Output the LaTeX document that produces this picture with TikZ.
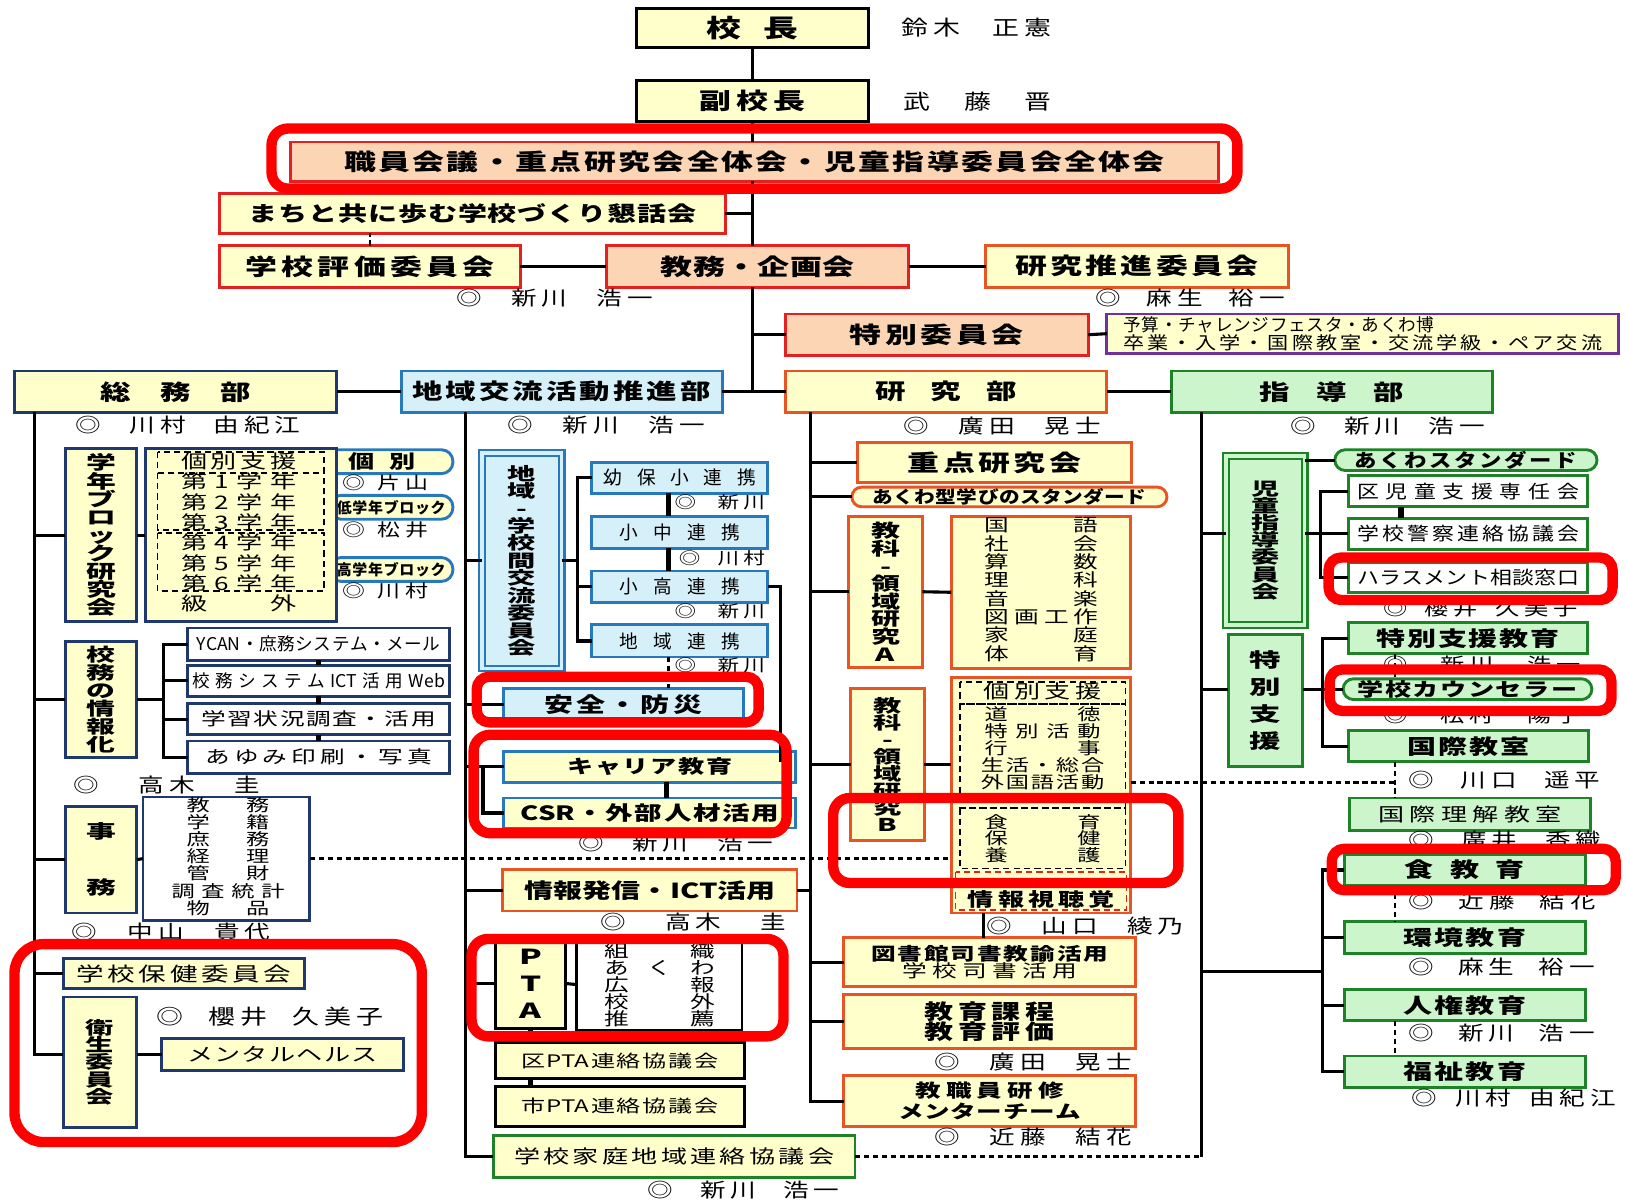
\documentclass[tikz,border=0pt]{standalone}
\usepackage{fontspec}
\setmainfont{Noto Sans CJK JP}
\newfontfamily\wfont[FakeStretch=1.4]{Noto Sans CJK JP}
\newfontfamily\mfont[FakeStretch=1.2]{Noto Sans CJK JP}
\newfontfamily\vfont[FakeStretch=1.6]{Noto Sans CJK JP}
\newfontfamily\nfont[FakeStretch=1.3,LetterSpace=25]{Noto Sans CJK JP}
\usetikzlibrary{positioning}

\definecolor{cream}{RGB}{255,255,204}
\definecolor{peach}{RGB}{252,213,180}
\definecolor{boxred}{RGB}{228,32,32}
\definecolor{boxorange}{RGB}{232,84,36}
\definecolor{navy}{RGB}{31,56,110}
\definecolor{skyline}{RGB}{40,120,190}
\definecolor{skyfill}{RGB}{214,240,250}
\definecolor{leaf}{RGB}{30,130,40}
\definecolor{leaffill}{RGB}{204,245,204}
\definecolor{plum}{RGB}{112,48,160}
\definecolor{marker}{RGB}{255,0,0}

\newdimen\px \px=0.5pt
\makeatletter
% spread the tokens of #2 over #1 px
\newcommand\sprd[2]{\hbox to #1\px{\let\sp@gap\relax\@tfor\sp@c:=#2\do{\sp@gap\sp@c\let\sp@gap\hfill}}}
\makeatother
% box from (x1,y1) to (x2,y2)
\newcommand\bx[7][]{\node[#1,minimum width={(#5-#3)*0.5pt},minimum height={(#6-#4)*0.5pt}] (#2) at ({(#3+#5)/2},{(#4+#6)/2}) {#7};}
% text spread from x1 to x2 at height y
\newcommand\tx[6][nm=9.5]{\node[#1] (#2) at ({(#3+#4)/2},#5) {\sprd{\the\numexpr#4-#3\relax}{#6}};}

\tikzset{
  box/.style={draw, line width=1.4pt, inner sep=0pt, outer sep=0pt, fill=cream},
  blackbox/.style={box, draw=black},
  redbox/.style={box, draw=boxred},
  peachbox/.style={box, draw=boxred, fill=peach},
  orbox/.style={box, draw=boxorange},
  navybox/.style={box, draw=navy},
  whitebox/.style={box, draw=navy, fill=white},
  skybox/.style={box, draw=skyline, fill=skyfill},
  greenbox/.style={box, draw=leaf, fill=leaffill},
  twoline/.style={double=#1, double distance=1.6pt, line width=1.1pt},
  pill/.style={rounded corners=#1},
  fs/.style={font=\fontsize{#1}{#1}\selectfont},
  fb/.style={font=\fontsize{#1}{#1}\selectfont\bfseries},
  fw/.style={font=\wfont\fontsize{#1}{#1}\selectfont\bfseries},
  fwr/.style={font=\wfont\fontsize{#1}{#1}\selectfont},
  fm/.style={font=\mfont\fontsize{#1}{#1}\selectfont\bfseries},
  fmr/.style={font=\mfont\fontsize{#1}{#1}\selectfont},
  nm/.style={font=\nfont\fontsize{#1}{#1}\selectfont},
  vt/.style 2 args={font=\vfont\fontsize{#1}{#2}\selectfont\bfseries, align=center},
  rows/.style 2 args={font=\wfont\fontsize{#1}{#2}\selectfont, align=center},
  link/.style={line width=1.5pt},
  boldlink/.style={line width=2.6pt},
  dotline/.style={line width=1.2pt, dash pattern=on 2.5pt off 1.8pt},
  dashrect/.style={line width=0.9pt, dash pattern=on 3pt off 2pt},
  marked/.style={draw=marker, line width=5pt, rounded corners=#1},
}

\begin{document}
\begin{tikzpicture}[x=0.5pt,y=-0.5pt]
\lineskiplimit=-100pt
\useasboundingbox (0,0) rectangle (1568,1159);
\fill[white] (0,0) rectangle (1568,1159);

% head
\bx[blackbox,fw=12]{kocho}{614}{8}{838}{46}{\sprd{89}{校長}}
\tx[nm=10]{nkocho}{870}{1015}{27}{{鈴木}{正憲}}
\bx[blackbox,fw=11]{fuku}{614}{78}{838}{117}{\sprd{102}{副校長}}
\tx[nm=10]{nfuku}{872}{1015}{98}{{武}{藤}{晋}}
\bx[peachbox,fw=11]{shokuin}{280}{137}{1176}{175}{\sprd{792}{職員会議・重点研究会全体会・児童指導委員会全体会}}
\bx[redbox,fw=10]{machi}{212}{187}{700}{225}{\sprd{432}{まちと共に歩む学校づくり懇話会}}
\bx[redbox,fw=11]{hyoka}{212}{237}{502}{277}{\sprd{241}{学校評価委員会}}
\bx[peachbox,fw=11]{kyomu}{585}{237}{877}{277}{\sprd{187}{教務・企画会}}
\bx[orbox,fw=11]{suishin}{951}{237}{1243}{277}{\sprd{235}{研究推進委員会}}
\tx{nkyomu}{440}{630}{288}{◎{新川}{浩一}}
\tx{nsuishin}{1057}{1240}{288}{◎{麻生}{裕一}}
\bx[peachbox,fw=11]{tokui}{758}{303}{1050}{343}{\sprd{168}{特別委員会}}
\bx[box,draw=plum,fs=8.5,align=left]{yosan}{1068}{303}{1562}{341}{\sprd{300}{予算・チャレンジフェスタ・あくわ博}\\{\mfont\sprd{462}{卒業・入学・国際教室・交流学級・ペア交流}}}

% departments
\bx[navybox,fw=10.5]{somu}{14}{358}{325}{398}{\sprd{145}{総務部}}
\bx[skybox,fw=10.5]{chiiki}{387}{358}{697}{398}{\sprd{288}{地域交流活動推進部}}
\bx[orbox,fw=10.5]{kenkyu}{758}{358}{1068}{398}{\sprd{137}{研究部}}
\bx[greenbox,fw=10.5]{shido}{1130}{358}{1440}{398}{\sprd{140}{指導部}}
\tx{nsomu}{73}{290}{410}{◎{川村}{由紀江}}
\tx{nchiiki}{490}{680}{410}{◎{新川}{浩一}}
\tx{nkenkyu}{872}{1062}{411}{◎{廣田}{晃士}}
\tx{nshido}{1245}{1433}{411}{◎{新川}{浩一}}

% somu column
\bx[navybox,vt={9}{8.75}]{gakunen}{63}{433}{132}{600}{学\\年\\ブ\\ロ\\ッ\\ク\\研\\究\\会}
\bx[box,draw=skyline,pill=5.5pt,fw=9]{pkobetsu}{300}{434}{437}{457}{\sprd{65}{個別}}
\bx[box,draw=skyline,pill=5.5pt,fb=7.2]{plow}{318}{478}{437}{501}{\sprd{105}{低学年ブロック}}
\bx[box,draw=skyline,pill=5.5pt,fb=7.2]{phigh}{318}{538}{437}{561}{\sprd{105}{高学年ブロック}}
\bx[navybox]{gradebox}{140}{433}{325}{600}{}
\draw[dashrect] (152,436) rectangle (313,511) (152,456) -- (313,456);
\draw[dashrect] (152,514) rectangle (313,570);
\node[rows={9}{9.8}] (graderows) at (230.5,514) {\sprd{111}{個別支援}\\\sprd{111}{第1学年}\\\sprd{111}{第2学年}\\\sprd{111}{第3学年}\\\sprd{111}{第4学年}\\\sprd{111}{第5学年}\\\sprd{111}{第6学年}\\\sprd{111}{級外}};
\tx[nm=8.5]{nkatayama}{330}{413}{466}{◎{片山}}
\tx[nm=8.5]{nmatsui}{330}{413}{511}{◎{松井}}
\tx[nm=8.5]{nkawamura}{330}{413}{570}{◎{川村}}

\bx[navybox,vt={8.7}{8.7}]{joho}{63}{619}{132}{731}{校\\務\\の\\情\\報\\化}
\bx[whitebox,fs=8.5]{ycan}{181}{606}{434}{637}{\sprd{235}{{YCAN}・庶務システム・メール}}
\bx[whitebox,fs=8.5]{komu}{181}{642}{434}{672}{\sprd{244}{校務システム{ICT}活用{Web}}}
\bx[whitebox,fwr=8.5]{gakushu}{181}{679}{434}{709}{\sprd{226}{学習状況調査・活用}}
\bx[whitebox,fwr=8.5]{ayumi}{181}{715}{434}{746}{\sprd{219}{あゆみ印刷・写真}}
\tx{ntakagi}{71}{251}{757}{◎{高木}{圭}}
\bx[navybox,vt={9}{27}]{jimu}{63}{778}{132}{881}{事\\務}
\bx[whitebox]{jimulist}{138}{769}{299}{888}{}
\node[rows={8}{8.25}] (jimurows) at (220,826.5) {\sprd{80}{教務}\\\sprd{80}{学籍}\\\sprd{80}{庶務}\\\sprd{80}{経理}\\\sprd{80}{管財}\\\sprd{109}{調査統計}\\\sprd{80}{物品}};
\tx{nnakayama}{69}{261}{899}{◎{中山}{貴代}}
\bx[navybox,fwr=9.5]{hoken}{61}{925}{294}{954}{\sprd{207}{学校保健委員会}}
\bx[navybox,vt={8.5}{8.25}]{eisei}{61}{962}{132}{1088}{衛\\生\\委\\員\\会}
\tx[nm=10]{nsakurai}{151}{370}{981}{◎{櫻井}{久美子}}
\bx[navybox,fwr=9]{mental}{156}{1002}{389}{1033}{\sprd{184}{メンタルヘルス}}

% chiiki column
\bx[skybox,twoline=skyfill,vt={8.5}{8.4}]{koryu}{465}{437}{542}{645}{地\\域\\-\\学\\校\\間\\交\\流\\委\\員\\会}
\bx[skybox,fs=9]{yoho}{571}{446}{741}{476}{\sprd{147}{幼保小連携}}
\bx[skybox,fs=9]{shochu}{571}{498}{741}{529}{\sprd{116}{小中連携}}
\bx[skybox,fs=9]{shoko}{571}{551}{741}{581}{\sprd{116}{小高連携}}
\bx[skybox,fs=9]{chiikirenkei}{571}{603}{741}{634}{\sprd{116}{地域連携}}
\tx[nm=8]{nyoho}{651}{738}{485}{◎{新川}}
\tx[nm=8]{nshochu}{655}{738}{539}{◎{川村}}
\tx[nm=8]{nshoko}{651}{738}{590}{◎{新川}}
\tx[nm=8]{nrenkei}{651}{738}{642}{◎{新川}}
\bx[skybox,fw=10]{anzen}{486}{664}{717}{696}{\sprd{152}{安全・防災}}
\bx[box,draw=skyline,fw=9]{career}{486}{725}{768}{755}{\sprd{159}{キャリア教育}}
\bx[box,draw=skyline,fw=9.5]{csr}{486}{770}{768}{799}{\sprd{249}{{CSR}・外部人材活用}}
\tx{ncsr}{558}{746}{814}{◎{新川}{浩一}}
\bx[orbox,fw=10]{hasshin}{485}{839}{769}{879}{\sprd{241}{情報発信・{ICT}活用}}
\tx{nhasshin}{579}{759}{890}{◎{高木}{圭}}
\bx[blackbox,vt={10}{13}]{pta}{478}{906}{546}{992}{P\\T\\A}
\bx[box,draw=black,fill=white]{ptalist}{556}{906}{716}{994}{}
\node[rows={8.5}{8.25}] (ptarows) at (636.5,950) {\sprd{107}{組織}\\\sprd{107}{あくわ}\\\sprd{107}{広報}\\\sprd{107}{校外}\\\sprd{107}{推薦}};
\bx[blackbox,fwr=8.3]{kupta}{478}{1006}{718}{1041}{\sprd{190}{区{PTA}連絡協議会}}
\bx[blackbox,fwr=8.3]{shipta}{478}{1048}{718}{1087}{\sprd{190}{市{PTA}連絡協議会}}
\bx[box,draw=leaf,fwr=9]{katei}{476}{1096}{825}{1136}{\sprd{309}{学校家庭地域連絡協議会}}
\tx{nkatei}{625}{810}{1148}{◎{新川}{浩一}}

% kenkyu column
\bx[orbox,fw=11]{juten}{827}{427}{1092}{466}{\sprd{167}{重点研究会}}
\bx[orbox,pill=4.75pt,fm=8.3]{akuwa}{822}{470}{1126}{489}{\sprd{264}{あくわ型学びのスタンダード}}
\bx[orbox,vt={8.75}{8.5}]{kyokaA}{819}{498}{890}{644}{教\\科\\-\\領\\域\\研\\究\\A}
\bx[orbox]{subjA}{918}{498}{1091}{645}{}
\node[rows={8.5}{8.85}] (subjArows) at (1005,569) {\sprd{110}{国語}\\\sprd{110}{社会}\\\sprd{110}{算数}\\\sprd{110}{理科}\\\sprd{110}{音楽}\\\sprd{110}{図画工作}\\\sprd{110}{家庭}\\\sprd{110}{体育}};
\bx[orbox,vt={8.5}{8.2}]{kyokaB}{821}{664}{892}{811}{教\\科\\-\\領\\域\\研\\究\\B}
\bx[orbox]{subjB}{918}{654}{1091}{881}{}
\draw[dashrect] (926,658) rectangle (1086,679);
\draw[dashrect] (926,679) rectangle (1086,780);
\draw[dashrect] (926,780) rectangle (1086,838);
\draw[dashrect,boxred] (922,841) rectangle (1087,878);
\tx[fwr=9]{kobetsuB}{949}{1063}{667}{個別支援}
\node[rows={8}{8.25}] (subjBrows) at (1006,722) {\sprd{112}{道徳}\\\sprd{112}{特別活動}\\\sprd{112}{行事}\\\sprd{119}{生活・総合}\\\sprd{119}{外国語活動}};
\node[rows={8}{8}] (healthrows) at (1006,809) {\sprd{112}{食育}\\\sprd{112}{保健}\\\sprd{112}{養護}};
\tx[fw=9]{shichokaku}{934}{1076}{868}{情報視聴覚}
\tx{nyamaguchi}{952}{1142}{894}{◎{山口}{綾乃}}
\bx[orbox,align=center,fwr=8.5]{tosho}{814}{905}{1096}{952}{{\bfseries\sprd{229}{図書館司書教諭活用}}\\\sprd{169}{学校司書活用}}
\bx[orbox,align=center,font=\wfont\fontsize{10}{9.5}\selectfont\bfseries]{kateiB}{814}{960}{1096}{1012}{\sprd{125}{教育課程}\\\sprd{125}{教育評価}}
\tx{nhirota}{902}{1092}{1025}{◎{廣田}{晃士}}
\bx[orbox,align=center,font=\wfont\fontsize{8.8}{10}\selectfont\bfseries]{kenshu}{814}{1038}{1096}{1087}{\sprd{143}{教職員研修}\\\sprd{177}{メンターチーム}}
\tx{nkondo}{902}{1092}{1097}{◎{近藤}{結花}}

% shido column
\bx[greenbox,twoline=leaffill,vt={8.5}{8.25}]{jido}{1183}{440}{1259}{603}{児\\童\\指\\導\\委\\員\\会}
\bx[greenbox,pill=5pt,fm=9]{akuwastd}{1288}{434}{1541}{454}{\sprd{215}{あくわスタンダード}}
\bx[box,draw=leaf,fill=white,fmr=8.8]{kujido}{1301}{459}{1532}{489}{\sprd{214}{区児童支援専任会}}
\bx[box,draw=leaf,fill=white,fmr=8.8]{keisatsu}{1301}{500}{1532}{530}{\sprd{214}{学校警察連絡協議会}}
\bx[box,draw=leaf,fill=white,fmr=8.8]{harassment}{1301}{543}{1532}{572}{\sprd{214}{ハラスメント相談窓口}}
\tx[nm=9]{nsakurai2}{1335}{1522}{587}{◎{櫻井}{久美子}}
\bx[greenbox,vt={9.5}{13.15}]{tokushi}{1185}{612}{1257}{740}{特\\別\\支\\援}
\bx[greenbox,fw=10]{tokushikyo}{1301}{601}{1532}{631}{\sprd{177}{特別支援教育}}
\tx[nm=9]{nshinkawa2}{1335}{1525}{641}{◎{新川}{浩一}}
\bx[greenbox,pill=5pt,fw=9]{counselor}{1296}{655}{1536}{675}{\sprd{212}{学校カウンセラー}}
\tx[nm=9]{nmatsumura}{1335}{1525}{690}{◎{松村}{陽子}}
\bx[greenbox,fw=10]{kokusai}{1301}{705}{1533}{735}{\sprd{117}{国際教室}}
\tx{nkawaguchi}{1359}{1544}{753}{◎{川口}{遥平}}
\bx[greenbox,fwr=9]{kokusairikai}{1302}{770}{1535}{801}{\sprd{177}{国際理解教室}}
\tx{nhiroi}{1359}{1545}{811}{◎{廣井}{香織}}
\bx[greenbox,fw=10]{shoku}{1297}{825}{1530}{854}{\sprd{116}{食教育}}
\tx{nkondo2}{1359}{1540}{869}{◎{近藤}{結花}}
\bx[greenbox,fw=10]{kankyo}{1297}{889}{1530}{920}{\sprd{118}{環境教育}}
\tx{naso}{1359}{1539}{933}{◎{麻生}{裕一}}
\bx[greenbox,fw=10]{jinken}{1297}{955}{1530}{985}{\sprd{118}{人権教育}}
\tx{nshinkawa3}{1359}{1539}{997}{◎{新川}{浩一}}
\bx[greenbox,fw=10]{fukushi}{1297}{1019}{1530}{1049}{\sprd{118}{福祉教育}}
\tx{nkawamura2}{1362}{1559}{1060}{◎{川村}{由紀江}}

% main line
\coordinate (mv) at (kocho.south);
\draw[link] (kocho.south) -- (fuku.north);
\draw[link] (mv |- fuku.south) -- (mv |- shokuin.north);
\draw[link] (mv |- shokuin.south) -- (mv |- kyomu.north);
\draw[link] (mv |- kyomu.south) -- (mv |- chiiki.east);
\draw[link] (machi.east) -- (mv |- machi.east);
\draw[link] (tokui.west) -- (mv |- tokui.west);
\draw[link] (hyoka.east) -- (kyomu.west);
\draw[link] (kyomu.east) -- (suishin.west);
\draw[link] (tokui.east) -- (yosan.west);
\draw[dotline] (hyoka.north) -- (hyoka.north |- machi.south);
\draw[link] (somu.east) -- (chiiki.west);
\draw[link] (chiiki.east) -- (kenkyu.west);
\draw[link] (kenkyu.east) -- (shido.west);

% somu lines
\coordinate (sv) at (33,398);
\draw[link] (sv) -- (sv |- mental.west) -- (eisei.west |- mental.west);
\draw[link] (eisei.east |- mental.west) -- (mental.west);
\draw[link] (gakunen.west) -- (gakunen.west -| sv);
\draw[link] (gakunen.east) -- (gradebox.west);
\draw[link] (joho.west) -- (joho.west -| sv);
\draw[link] (joho.east) -- ++(26,0);
\draw[link] (ycan.west) -- ++(-23,0) |- (ayumi.west);
\draw[link] (komu.west) -- ++(-23,0);
\draw[link] (gakushu.west) -- ++(-23,0);
\draw[boldlink] (ycan.south) -- (komu.north);
\draw[boldlink] (komu.south) -- (gakushu.north);
\draw[boldlink] (gakushu.south) -- (ayumi.north);
\draw[link] (jimu.west) -- (jimu.west -| sv);
\draw[link] (jimu.east) -- (jimulist.west);
\draw[link] (hoken.west) -- (hoken.west -| sv);

% chiiki lines
\coordinate (cv) at (449,398);
\draw[link] (cv) -- (cv |- katei.west) -- (katei.west);
\draw[link] (koryu.west) -- (koryu.west -| cv);
\draw[link] (koryu.east) -- ++(15,0);
\draw[link] (yoho.west) -- ++(-14,0) |- (chiikirenkei.west);
\draw[link] (shoko.west) -- ++(-14,0);
\draw[boldlink] ([xshift=-5.5pt]yoho.south) -- ([xshift=-5.5pt]shochu.north);
\draw[boldlink] ([xshift=-5.5pt]shochu.south) -- ([xshift=-5.5pt]shoko.north);
\draw[dotline] ([xshift=-5.5pt]chiikirenkei.south) -- ([xshift=-5.5pt]chiikirenkei.south |- anzen.north);
\coordinate (sk) at (753,735);
\draw[link] (shoko.east) -| (sk);
\draw[link] (anzen.west) -- (anzen.west -| cv);
\draw[link] (career.west) -- (career.west -| cv);
\draw[link] (career.west) -- ++(-20,0) |- (csr.west);
\draw[boldlink] ([xshift=8pt]career.south) -- ([xshift=8pt]csr.north);
\draw[link] (hasshin.west) -- (hasshin.west -| cv);
\draw[link] (pta.west) -- (pta.west -| cv);
\draw[link] (pta.east) -- (ptalist.west);
\draw[boldlink] (pta.south) -- (pta.south |- kupta.north);
\draw[boldlink] (pta.south |- kupta.south) -- (pta.south |- shipta.north);

% kenkyu lines
\coordinate (kv) at (782,398);
\draw[link] (kv) -- (kv |- kenshu.west) -- (kenshu.west);
\draw[link] (hasshin.east) -- (hasshin.east -| kv);
\draw[link] (juten.west) -- (juten.west -| kv);
\draw[link] (akuwa.west) -- (akuwa.west -| kv);
\draw[link] (kyokaA.west) -- (kyokaA.west -| kv);
\draw[link] (kyokaA.east) -- (subjA.west);
\draw[link] (kyokaB.west) -- (kyokaB.west -| kv);
\draw[link] (kyokaB.east) -- (kyokaB.east -| subjB.west);
\draw[link] (tosho.west) -- (tosho.west -| kv);
\draw[link] (kateiB.west) -- (kateiB.west -| kv);
\draw[link] ([xshift=-27.75pt]subjB.south) -- ([xshift=-27.75pt]subjB.south |- tosho.north);
\draw[dotline] (jimulist.east) -- (jimulist.east -| subjB.west);
\coordinate (kx) at (1346,755);
\draw[dotline] (subjB.east |- kx) -- (kx);

% shido lines
\coordinate (gv) at (1159,398);
\draw[link] (gv) -- (gv |- katei.east);
\draw[dotline] (katei.east) -- (gv |- katei.east);
\draw[link] (gv |- keisatsu.west) -- (jido.west |- keisatsu.west);
\draw[link] (jido.east |- keisatsu.west) -- (keisatsu.west);
\draw[link] (jido.east |- akuwastd.west) -- (akuwastd.west);
\draw[link] (kujido.west) -- ++(-27,0) |- (harassment.west);
\draw[boldlink] ([xshift=-32.25pt]kujido.south) -- ([xshift=-32.25pt]keisatsu.north);
\draw[link] (gv |- counselor.west) -- (tokushi.west |- counselor.west);
\draw[link] (tokushi.east |- counselor.west) -- (counselor.west);
\draw[link] (tokushikyo.west) -- ++(-25,0) |- (kokusai.west);
\draw[dotline] ([xshift=-35.25pt]tokushikyo.south) -- ([xshift=-35.25pt]tokushikyo.south |- counselor.north);
\draw[dotline] ([xshift=-35.5pt]kokusai.south) -- ([xshift=-35.5pt]kokusai.south |- kokusairikai.north);
\draw[link] (shoku.west) -- ++(-21,0) |- (fukushi.west);
\draw[link] (kankyo.west) -- ++(-21,0);
\draw[link] (jinken.west) -- ++(-21,0);
\coordinate (sb) at (1276,937);
\draw[link] (gv |- sb) -- (sb);
\draw[dotline] ([xshift=-33.75pt]shoku.south) -- ([xshift=-33.75pt]shoku.south |- kankyo.north);
\draw[dotline] ([xshift=-33.75pt]jinken.south) -- ([xshift=-33.75pt]jinken.south |- fukushi.north);

% red marks
\draw[marked=8pt] (262,124) rectangle (1194,182);
\draw[marked=14pt] (14,911) rectangle (407,1102);
\draw[marked=6pt] (460,653) rectangle (732,697);
\draw[marked=8pt] (457,709) rectangle (759,804);
\draw[marked=8pt] (455,906) rectangle (756,1000);
\draw[marked=8pt] (804,770) rectangle (1137,852);
\draw[marked=6pt] (1282,538) rectangle (1556,579);
\draw[marked=6pt] (1283,646) rectangle (1555,686);
\draw[marked=6pt] (1285,819) rectangle (1559,859);
\end{tikzpicture}
\end{document}
